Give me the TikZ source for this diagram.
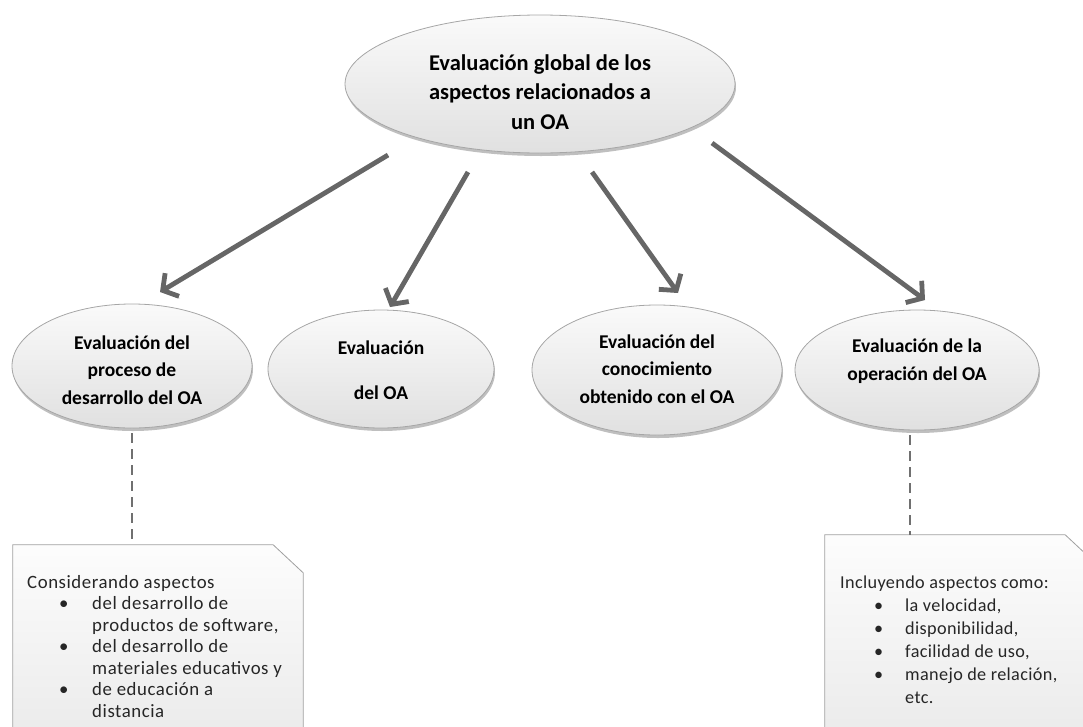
\documentclass[tikz,border=0pt]{standalone}
\usepackage{fontspec}
\setmainfont{Carlito}
\usetikzlibrary{shapes.geometric,arrows.meta,shadows}
\definecolor{arrowgray}{HTML}{666666}
\definecolor{ovalline}{HTML}{A6A6A6}
\definecolor{boxline}{HTML}{A0A0A0}
\definecolor{txtgray}{HTML}{262626}
\definecolor{dashgray}{HTML}{707070}
\begin{document}
\begin{tikzpicture}[x=1pt,y=-1pt,
  oval/.style={ellipse, draw=ovalline, line width=0.8pt, inner sep=0pt,
    top color=gray!4, bottom color=gray!24,
    drop shadow={shadow xshift=1pt, shadow yshift=-3pt, opacity=0.25, fill=black}},
  ovaltext/.style={align=center, font=\fontsize{19.5}{27.5}\selectfont\bfseries, text=black, inner sep=0pt},
  toptext/.style={align=center, font=\fontsize{22.5}{29.5}\selectfont\bfseries, text=black, inner sep=0pt},
  arr/.style={draw=arrowgray, line width=4.8pt,
    -{Straight Barb[length=11pt,width=27pt]},
    preaction={draw=black!18, transform canvas={shift={(1pt,-2pt)}}}},
  dashline/.style={draw=dashgray, line width=2.2pt, dash pattern=on 10pt off 6pt},
  notebox/.style={draw=boxline, line width=0.8pt, top color=gray!2, bottom color=gray!16},
  notetext/.style={anchor=north west, inner sep=0pt, text=txtgray}
]
\useasboundingbox (0,0) rectangle (1083,726);
\clip (0,0) rectangle (1083,726);

% top ellipse
\node[oval, minimum width=390pt, minimum height=138pt] (top) at (540,84) {};
\node[toptext] (toplbl) at (540,92) {Evaluación global de los\\aspectos relacionados a\\un OA};

% child ellipses
\node[oval, minimum width=240pt, minimum height=124pt] (e1) at (132,366) {};
\node[ovaltext] (l1) at (132,370) {Evaluación del\\proceso de\\desarrollo del OA};

\node[oval, minimum width=226pt, minimum height=118pt] (e2) at (381,369) {};
\node[ovaltext] (l2) at (381,370) {Evaluación\\[17pt]del OA};

\node[oval, minimum width=250pt, minimum height=130pt] (e3) at (657,370) {};
\node[ovaltext] (l3) at (657,369) {Evaluación del\\conocimiento\\obtenido con el OA};

\node[oval, minimum width=244pt, minimum height=120pt] (e4) at (917,370) {};
\node[ovaltext] (l4) at (917,361) {Evaluación de la\\operación del OA};

% arrows
\coordinate (s1) at (388,155); \coordinate (t1) at (160,292);
\coordinate (s2) at (468,172); \coordinate (t2) at (390,307);
\coordinate (s3) at (592,172); \coordinate (t3) at (678,293);
\coordinate (s4) at (712,143); \coordinate (t4) at (925,300);
\draw[arr] (s1) -- (t1);
\draw[arr] (s2) -- (t2);
\draw[arr] (s3) -- (t3);
\draw[arr] (s4) -- (t4);

% note boxes
\node[minimum width=290pt, minimum height=195pt, inner sep=0pt] (b1) at (158,642.5) {};
\path[notebox] (b1.north west) -- ([xshift=-30pt]b1.north east) -- ([yshift=-28pt]b1.north east)
   -- (b1.south east) -- (b1.south west) -- cycle;
\node[minimum width=270pt, minimum height=205pt, inner sep=0pt] (b2) at (960,637.5) {};
\path[notebox] (b2.north west) -- ([xshift=-30pt]b2.north east) -- ([yshift=-28pt]b2.north east)
   -- (b2.south east) -- (b2.south west) -- cycle;

% dashed connectors
\draw[dashline] ([yshift=-5pt]e1.south) -- (e1.south |- b1.north);
\coordinate (d4) at ([xshift=-7pt,yshift=-5pt]e4.south);
\draw[dashline] (d4) -- (d4 |- b2.north);

% note texts
\node[notetext] (n1) at (27,573) {\fontsize{18.8}{21.5}\selectfont\addfontfeatures{LetterSpace=3}%
  \begin{tabular}{@{}p{65pt}@{}l@{}}
  \multicolumn{2}{@{}l@{}}{Considerando aspectos}\\
  \hspace*{32pt}\textbullet & del desarrollo de\\
   & productos de software,\\
  \hspace*{32pt}\textbullet & del desarrollo de\\
   & materiales educativos y\\
  \hspace*{32pt}\textbullet & de educación a\\
   & distancia
  \end{tabular}};
\node[notetext] (n2) at (840,572) {\fontsize{18.2}{23}\selectfont\addfontfeatures{LetterSpace=2}%
  \begin{tabular}{@{}p{65pt}@{}l@{}}
  \multicolumn{2}{@{}l@{}}{Incluyendo aspectos como:}\\
  \hspace*{34pt}\textbullet & la velocidad,\\
  \hspace*{34pt}\textbullet & disponibilidad,\\
  \hspace*{34pt}\textbullet & facilidad de uso,\\
  \hspace*{34pt}\textbullet & manejo de relación,\\
   & etc.
  \end{tabular}};
\end{tikzpicture}
\end{document}
